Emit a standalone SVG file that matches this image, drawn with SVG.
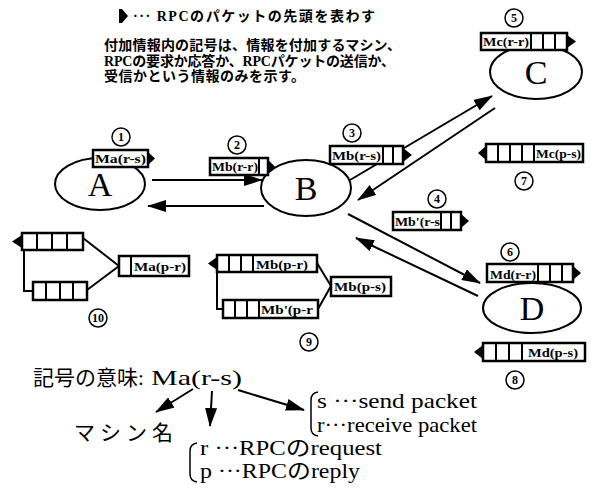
<svg xmlns="http://www.w3.org/2000/svg" width="602" height="493" viewBox="0 0 602 493">
<defs>
<marker id="ah" markerUnits="userSpaceOnUse" markerWidth="19" markerHeight="12" refX="18" refY="6" orient="auto">
<path d="M0,0 L19,6 L0,12 z" fill="#000"/>
</marker>
<style>
.bg{fill:#fff}
.box{fill:#fff;stroke:#000;stroke-width:2.5}
.cell{stroke:#000;stroke-width:2}
.tip{fill:#000}
.lbl{font-family:"Liberation Serif","Noto Sans CJK JP",serif;font-size:13px;font-weight:bold;fill:#000}
.num circle{fill:#fff;stroke:#000;stroke-width:1.5}
.num text{font-family:"Liberation Serif",serif;font-size:12px;font-weight:bold;text-anchor:middle}
.node ellipse{fill:#fff;stroke:#000;stroke-width:2}
.node text{font-family:"Liberation Serif",serif;font-size:34px;text-anchor:middle}
.conn line,.conn path{stroke:#000;stroke-width:2;fill:none}
.arr{marker-end:url(#ah)}
.jp{font-family:"Liberation Serif","Noto Sans CJK JP",serif;font-weight:bold;font-size:14px}
.leg{font-family:"Liberation Serif","Noto Sans CJK JP",serif;font-size:21px}
.br{stroke:#000;stroke-width:1.5;fill:none}
</style>
</defs>
<rect class="bg" width="602" height="493"/>

<g id="note">
<polygon class="tip" points="119,9 122,9 128,16 122,23 119,23"/>
<text class="jp" x="133" y="21" font-size="14" textLength="242" lengthAdjust="spacing">··· RPCのパケットの先頭を表わす</text>
<text class="jp" x="104" y="50" textLength="297" lengthAdjust="spacing">付加情報内の記号は、情報を付加するマシン、</text>
<text class="jp" x="104" y="66" textLength="291" lengthAdjust="spacing">RPCの要求か応答か、RPCパケットの送信か、</text>
<text class="jp" x="104" y="81" textLength="201" lengthAdjust="spacing">受信かという情報のみを示す。</text>
</g>

<g id="connectors" class="conn">
<line class="arr" x1="152" y1="180" x2="262" y2="180"/>
<line class="arr" x1="264" y1="206" x2="148" y2="206"/>
<line class="arr" x1="350" y1="180" x2="492" y2="96"/>
<line class="arr" x1="495" y1="108" x2="358" y2="200"/>
<line class="arr" x1="348" y1="214" x2="480" y2="283"/>
<line class="arr" x1="478" y1="296" x2="356" y2="238"/>
<line x1="317" y1="263" x2="331" y2="286"/>
<line x1="318" y1="309" x2="331" y2="286"/>
<line x1="83" y1="238" x2="119" y2="266"/>
<line x1="87" y1="290" x2="119" y2="266"/>
<path d="M217,272 V309 H223"/>
<path d="M24,250 V291 H33"/>
<line class="arr" x1="193" y1="389" x2="156" y2="412"/>
<line class="arr" x1="212" y1="391" x2="210" y2="426"/>
<line class="arr" x1="238" y1="390" x2="304" y2="410"/>
</g>

<g id="A" class="node"><ellipse cx="100" cy="184" rx="45" ry="26"/><text x="100" y="196">A</text></g>
<g id="B" class="node"><ellipse cx="306" cy="188" rx="45" ry="28"/><text x="306" y="200">B</text></g>
<g id="C" class="node"><ellipse cx="536" cy="72" rx="46" ry="27"/><text x="536" y="84">C</text></g>
<g id="D" class="node"><ellipse cx="532" cy="308" rx="49" ry="25"/><text x="532" y="320">D</text></g>

<g id="p1">
<rect class="box" x="93" y="150" width="55" height="17"/>
<polygon class="tip" points="148,152 155,158.5 148,165"/>
<text class="lbl" x="95" y="163" textLength="51" lengthAdjust="spacingAndGlyphs">Ma(r-s)</text>
<g class="num"><circle cx="121" cy="137" r="9"/><text x="121" y="141">1</text></g>
</g>
<g id="p2">
<rect class="box" x="210" y="158" width="58" height="17"/>
<line class="cell" x1="259" y1="158" x2="259" y2="175"/>
<polygon class="tip" points="268,160 275,166.5 268,173"/>
<text class="lbl" x="212" y="171" textLength="46" lengthAdjust="spacingAndGlyphs">Mb(r-r)</text>
<g class="num"><circle cx="237" cy="145" r="9"/><text x="237" y="149">2</text></g>
</g>
<g id="p3">
<rect class="box" x="330" y="146" width="73" height="18"/>
<line class="cell" x1="383" y1="146" x2="383" y2="164"/>
<line class="cell" x1="393" y1="146" x2="393" y2="164"/>
<polygon class="tip" points="403,148 412,155 403,162"/>
<text class="lbl" x="332" y="160" textLength="49" lengthAdjust="spacingAndGlyphs">Mb(r-s)</text>
<g class="num"><circle cx="352" cy="133" r="9"/><text x="352" y="137">3</text></g>
</g>
<g id="p4">
<rect class="box" x="393" y="212" width="68" height="18"/>
<line class="cell" x1="441" y1="212" x2="441" y2="230"/>
<line class="cell" x1="451" y1="212" x2="451" y2="230"/>
<polygon class="tip" points="461,214 469,221 461,228"/>
<text class="lbl" x="395" y="226" textLength="45" lengthAdjust="spacingAndGlyphs">Mb'(r-s</text>
<g class="num"><circle cx="437" cy="199" r="9"/><text x="437" y="203">4</text></g>
</g>
<g id="p5">
<rect class="box" x="481" y="33" width="86" height="17"/>
<line class="cell" x1="531" y1="33" x2="531" y2="50"/>
<line class="cell" x1="543" y1="33" x2="543" y2="50"/>
<line class="cell" x1="555" y1="33" x2="555" y2="50"/>
<polygon class="tip" points="567,35 576,41.5 567,48"/>
<text class="lbl" x="483" y="46" textLength="46" lengthAdjust="spacingAndGlyphs">Mc(r-r)</text>
<g class="num"><circle cx="514" cy="18" r="9"/><text x="514" y="22">5</text></g>
</g>
<g id="p6">
<rect class="box" x="487" y="264" width="86" height="18"/>
<line class="cell" x1="538" y1="264" x2="538" y2="282"/>
<line class="cell" x1="550" y1="264" x2="550" y2="282"/>
<line class="cell" x1="562" y1="264" x2="562" y2="282"/>
<polygon class="tip" points="573,266 581,273 573,280"/>
<text class="lbl" x="490" y="279" textLength="46" lengthAdjust="spacingAndGlyphs">Md(r-r)</text>
<g class="num"><circle cx="510" cy="252" r="9"/><text x="510" y="256">6</text></g>
</g>
<g id="p7">
<rect class="box" x="486" y="144" width="97" height="18"/>
<polygon class="tip" points="486,146 478,153 486,160"/>
<line class="cell" x1="498" y1="144" x2="498" y2="162"/>
<line class="cell" x1="510" y1="144" x2="510" y2="162"/>
<line class="cell" x1="522" y1="144" x2="522" y2="162"/>
<line class="cell" x1="534" y1="144" x2="534" y2="162"/>
<text class="lbl" x="536" y="158" textLength="45" lengthAdjust="spacingAndGlyphs">Mc(p-s)</text>
<g class="num"><circle cx="524" cy="181" r="9"/><text x="524" y="185">7</text></g>
</g>
<g id="p8">
<rect class="box" x="483" y="343" width="102" height="18"/>
<polygon class="tip" points="483,345 474,352 483,359"/>
<line class="cell" x1="496" y1="343" x2="496" y2="361"/>
<line class="cell" x1="509" y1="343" x2="509" y2="361"/>
<line class="cell" x1="522" y1="343" x2="522" y2="361"/>
<text class="lbl" x="528" y="357" textLength="50" lengthAdjust="spacingAndGlyphs">Md(p-s)</text>
<g class="num"><circle cx="515" cy="380" r="9"/><text x="515" y="384">8</text></g>
</g>
<g id="p9">
<rect class="box" x="217" y="255" width="100" height="17"/>
<polygon class="tip" points="217,257 208,263.5 217,270"/>
<line class="cell" x1="229" y1="255" x2="229" y2="272"/>
<line class="cell" x1="241" y1="255" x2="241" y2="272"/>
<line class="cell" x1="253" y1="255" x2="253" y2="272"/>
<text class="lbl" x="256" y="269" textLength="52" lengthAdjust="spacingAndGlyphs">Mb(p-r)</text>
<rect class="box" x="331" y="277" width="60" height="19"/>
<text class="lbl" x="334" y="291" textLength="52" lengthAdjust="spacingAndGlyphs">Mb(p-s)</text>
<rect class="box" x="223" y="300" width="95" height="18"/>
<line class="cell" x1="235" y1="300" x2="235" y2="318"/>
<line class="cell" x1="247" y1="300" x2="247" y2="318"/>
<line class="cell" x1="259" y1="300" x2="259" y2="318"/>
<text class="lbl" x="261" y="314" textLength="52" lengthAdjust="spacingAndGlyphs">Mb'(p-r</text>
<g class="num"><circle cx="309" cy="342" r="9"/><text x="309" y="346">9</text></g>
</g>
<g id="p10">
<rect class="box" x="22" y="233" width="61" height="17"/>
<polygon class="tip" points="22,235 12,241.5 22,248"/>
<line class="cell" x1="37" y1="233" x2="37" y2="250"/>
<line class="cell" x1="52" y1="233" x2="52" y2="250"/>
<line class="cell" x1="67" y1="233" x2="67" y2="250"/>
<rect class="box" x="33" y="282" width="54" height="18"/>
<line class="cell" x1="46" y1="282" x2="46" y2="300"/>
<line class="cell" x1="60" y1="282" x2="60" y2="300"/>
<line class="cell" x1="73" y1="282" x2="73" y2="300"/>
<rect class="box" x="119" y="256" width="70" height="20"/>
<line class="cell" x1="131" y1="256" x2="131" y2="276"/>
<text class="lbl" x="134" y="271" textLength="52" lengthAdjust="spacingAndGlyphs">Ma(p-r)</text>
<g class="num"><circle cx="98" cy="318" r="9"/><text x="98" y="322">10</text></g>
</g>

<g id="legend">
<text class="leg" x="33" y="385" font-size="19.5">記号の意味:</text>
<text class="leg" x="151" y="385" font-size="22" textLength="91" lengthAdjust="spacingAndGlyphs">Ma(r-s)</text>
<text class="leg" x="74" y="440" font-size="20" letter-spacing="5">マシン名</text>
<path class="br" d="M318,392 Q311,393 311,400 V428 Q311,435 318,436"/>
<text class="leg" x="317" y="408" textLength="160" lengthAdjust="spacingAndGlyphs">s ···send packet</text>
<text class="leg" x="317" y="432" textLength="160" lengthAdjust="spacingAndGlyphs">r···receive packet</text>
<path class="br" d="M197,443 Q190,444 190,451 V474 Q190,481 197,482"/>
<text class="leg" x="200" y="455" textLength="182" lengthAdjust="spacingAndGlyphs">r ···RPCのrequest</text>
<text class="leg" x="200" y="478" textLength="160" lengthAdjust="spacingAndGlyphs">p ···RPCのreply</text>
</g>
</svg>
